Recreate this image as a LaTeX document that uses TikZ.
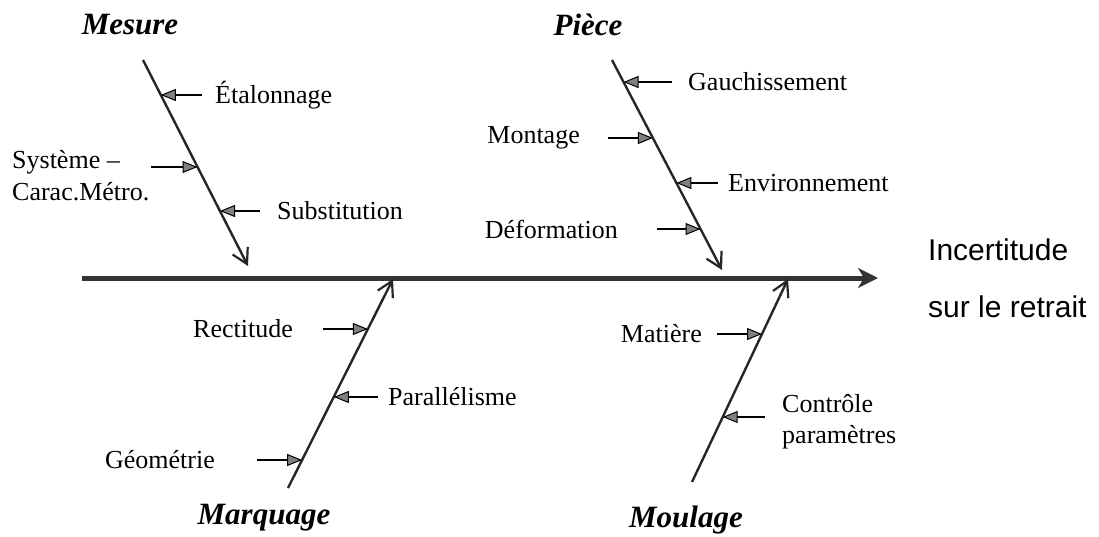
\documentclass[tikz,border=0pt]{standalone}
\usepackage{fontspec}
\setmainfont{Liberation Serif}
\newfontfamily\arialfont{Liberation Sans}
\usetikzlibrary{arrows.meta,calc}
\begin{document}
\begin{tikzpicture}[x=1pt,y=-1pt,
  lbl/.style={inner sep=0pt, font=\fontsize{26}{32}\selectfont},
  cat/.style={inner sep=0pt, font=\fontsize{31}{36}\selectfont\bfseries\itshape},
  eff/.style={inner sep=0pt, align=left, font=\arialfont\fontsize{30}{57}\selectfont},
  bone/.style={line width=2.4pt, black!85, -{Straight Barb[length=15pt,width=17pt,line width=2.2pt]}},
  cause/.style={line width=2.2pt, black, -{Triangle[length=15pt,width=12pt,line width=1pt,fill=black!50]}},
  spine/.style={line width=5pt, black!80, -{Stealth[length=20pt,width=20pt,inset=6pt]}},
]
\useasboundingbox (0,0) rectangle (1099,537);

% effect and spine
\coordinate (S) at (82,278);
\node[eff, anchor=west] (eff) at (928,278) {Incertitude\\sur le retrait};
\draw[spine, shorten >=50pt] (S) -- (eff);

% category labels
\node[cat] (mes) at (130,25) {Mesure};
\node[cat] (pie) at (588,25) {Pièce};
\node[cat] (mar) at (264,518) {Marquage};
\node[cat] (mou) at (686,520) {Moulage};

% bone end points
\coordinate (M1) at (143,60);  \coordinate (M2) at (248,266);
\coordinate (P1) at (612,60);  \coordinate (P2) at (722,270);
\coordinate (B1) at (288,488); \coordinate (B2) at (393,279);
\coordinate (C1) at (692,482); \coordinate (C2) at (788,279);

\draw[bone] (M1) -- (M2);
\draw[bone] (P1) -- (P2);
\draw[bone] (B1) -- (B2);
\draw[bone] (C1) -- (C2);

% points where causes meet the bones
\coordinate (etaA) at (160.8,95);
\coordinate (sysA) at (197.5,167);
\coordinate (subA) at (220,211);
\coordinate (gauA) at (623.5,82);
\coordinate (monA) at (652.9,138);
\coordinate (envA) at (676.4,183);
\coordinate (defA) at (700.5,229);
\coordinate (recA) at (367.9,329);
\coordinate (parA) at (333.8,397);
\coordinate (geoA) at (302.1,460);
\coordinate (matA) at (762,334);
\coordinate (conA) at (722.7,417);

% cause labels
\node[lbl, anchor=west] (eta) at (215,95) {Étalonnage};
\node[lbl, anchor=west, align=left] (sys) at (12,176) {Système –\\Carac.Métro.};
\node[lbl, anchor=west] (sub) at (277,211) {Substitution};
\node[lbl, anchor=west] (gau) at (688,82) {Gauchissement};
\node[lbl, anchor=east] (mon) at (580,138) {Montage};
\node[lbl, anchor=west] (env) at (728,183) {Environnement};
\node[lbl, anchor=east] (def) at (618,229) {Déformation};
\node[lbl, anchor=east] (rec) at (293,329) {Rectitude};
\node[lbl, anchor=west] (par) at (388,397) {Parallélisme};
\node[lbl, anchor=east] (geo) at (215,460) {Géométrie};
\node[lbl, anchor=east] (mat) at (702,334) {Matière};
\node[lbl, anchor=west, align=left, font=\fontsize{26}{31}\selectfont] (con) at (782,422) {Contrôle\\paramètres};

% cause arrows
\draw[cause, shorten <=13pt] (eta) -- (etaA);
\draw[cause, shorten <=1pt] (sys.east |- sysA) -- (sysA);
\draw[cause, shorten <=17pt] (sub) -- (subA);
\draw[cause, shorten <=16pt] (gau) -- (gauA);
\draw[cause, shorten <=28pt] (mon) -- (monA);
\draw[cause, shorten <=10pt] (env) -- (envA);
\draw[cause, shorten <=39pt] (def) -- (defA);
\draw[cause, shorten <=30pt] (rec) -- (recA);
\draw[cause, shorten <=10pt] (par) -- (parA);
\draw[cause, shorten <=42pt] (geo) -- (geoA);
\draw[cause, shorten <=15pt] (mat) -- (matA);
\draw[cause, shorten <=17pt] (con.west |- conA) -- (conA);
\end{tikzpicture}
\end{document}
